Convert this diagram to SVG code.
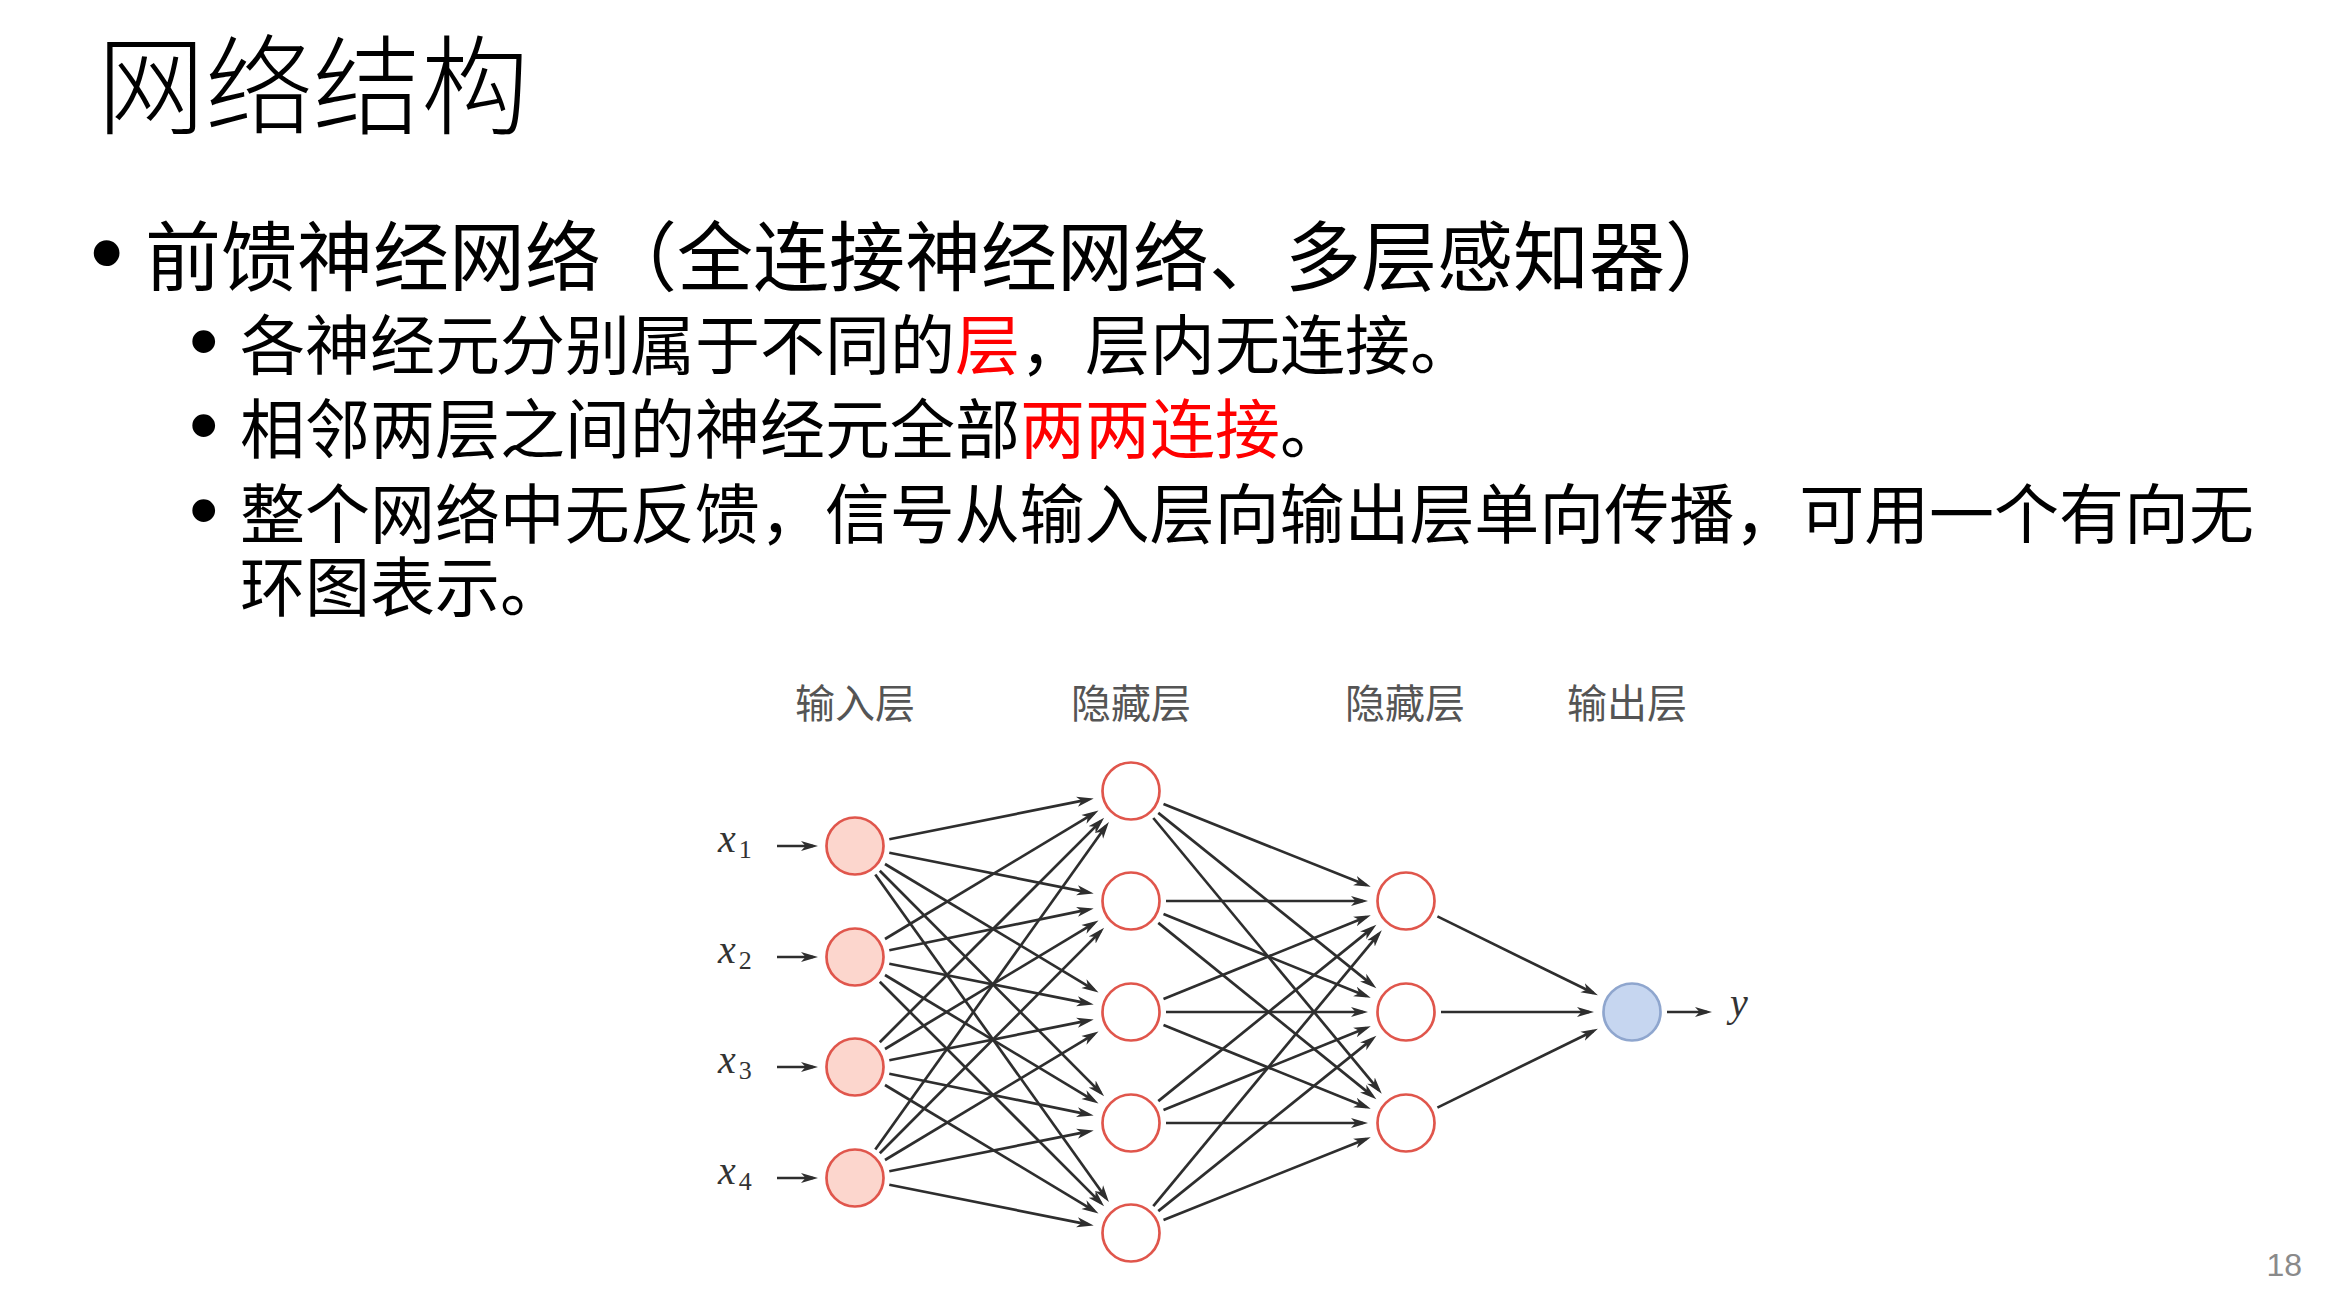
<svg xmlns="http://www.w3.org/2000/svg" width="2340" height="1302" viewBox="0 0 2340 1302">
<defs>
<marker id="arr" markerUnits="userSpaceOnUse" markerWidth="20" markerHeight="14" viewBox="0 0 20 14" refX="12" refY="7" orient="auto">
<path d="M0,2 L17,7 L0,12 L4.5,7 Z" fill="#2e2e2e"/>
</marker>
</defs>
<style>
.cjk{font-family:"Noto Sans CJK SC","Noto Sans",sans-serif;}
.title{font-size:108px;fill:#000;font-weight:300;}
.l1{font-size:76px;fill:#000;}
.l2{font-size:65px;fill:#000;}
.red{fill:#FF0000;}
.b1{font-family:"Liberation Sans",Arial,sans-serif;font-size:95px;}
.b2{font-family:"Liberation Sans",Arial,sans-serif;font-size:84px;}
.lay{font-size:40px;fill:#555;text-anchor:middle;}
.var{font-family:"Liberation Serif","Times New Roman",serif;font-style:italic;font-size:40px;fill:#333;}
.sub{font-style:normal;font-size:26px;}
.pg{font-family:"Liberation Sans",Arial,sans-serif;font-size:32px;fill:#8a8a8a;text-anchor:end;}
.edge line{stroke:#2e2e2e;stroke-width:2.7;fill:none;marker-end:url(#arr);}
.inp{fill:#FCD6CD;stroke:#E0564C;stroke-width:2.7;}
.hid{fill:#FFFFFF;stroke:#E0564C;stroke-width:2.7;}
.out{fill:#C6D6F0;stroke:#8FA6CE;stroke-width:2.7;}
</style>
<rect x="0" y="0" width="2340" height="1302" fill="#FFFFFF"/>

<g id="text">
<text class="cjk title" x="97" y="126">网络结构</text>
<text class="cjk l1" x="90" y="285"><tspan class="b1">•</tspan><tspan x="145">前馈神经网络（全连接神经网络、多层感知器）</tspan></text>
<text class="cjk l2" x="189" y="369"><tspan class="b2">•</tspan><tspan x="240">各神经元分别属于不同的</tspan><tspan class="red">层</tspan>，层内无连接。</text>
<text class="cjk l2" x="189" y="453"><tspan class="b2">•</tspan><tspan x="240">相邻两层之间的神经元全部</tspan><tspan class="red">两两连接</tspan>。</text>
<text class="cjk l2" x="189" y="538"><tspan class="b2">•</tspan><tspan x="240" textLength="2014" lengthAdjust="spacing">整个网络中无反馈，信号从输入层向输出层单向传播，可用一个有向无</tspan><tspan x="240" y="611">环图表示。</tspan></text>
<text class="pg" x="2302" y="1276">18</text>
</g>

<g id="layer-labels">
<text class="cjk lay" x="855" y="718">输入层</text>
<text class="cjk lay" x="1131" y="718">隐藏层</text>
<text class="cjk lay" x="1405" y="718">隐藏层</text>
<text class="cjk lay" x="1627" y="718">输出层</text>
</g>

<g id="var-labels">
<text class="var" x="718" y="852">x<tspan class="sub" dx="3" dy="6">1</tspan></text>
<text class="var" x="718" y="963">x<tspan class="sub" dx="3" dy="6">2</tspan></text>
<text class="var" x="718" y="1073">x<tspan class="sub" dx="3" dy="6">3</tspan></text>
<text class="var" x="718" y="1184">x<tspan class="sub" dx="3" dy="6">4</tspan></text>
<text class="var" x="1730" y="1016">y</text>
</g>

<g id="connectors" class="edge">
<line x1="777" y1="846" x2="813" y2="846"/>
<line x1="777" y1="957" x2="813" y2="957"/>
<line x1="777" y1="1067" x2="813" y2="1067"/>
<line x1="777" y1="1178" x2="813" y2="1178"/>

<line x1="889.3" y1="839.2" x2="1088.8" y2="799.4"/>
<line x1="889.3" y1="852.8" x2="1088.8" y2="892.6"/>
<line x1="885.0" y1="864.0" x2="1094.2" y2="989.8"/>
<line x1="879.8" y1="870.8" x2="1100.6" y2="1092.6"/>
<line x1="875.3" y1="874.5" x2="1106.0" y2="1198.0"/>

<line x1="885.0" y1="939.0" x2="1094.2" y2="813.2"/>
<line x1="889.3" y1="950.2" x2="1088.8" y2="909.4"/>
<line x1="889.3" y1="963.8" x2="1088.8" y2="1003.6"/>
<line x1="885.0" y1="975.0" x2="1094.2" y2="1100.8"/>
<line x1="879.8" y1="981.8" x2="1100.6" y2="1202.6"/>

<line x1="879.8" y1="1042.2" x2="1100.6" y2="821.4"/>
<line x1="885.0" y1="1049.0" x2="1094.2" y2="923.2"/>
<line x1="889.3" y1="1060.2" x2="1088.8" y2="1020.4"/>
<line x1="889.3" y1="1073.8" x2="1088.8" y2="1114.6"/>
<line x1="885.0" y1="1085.0" x2="1094.2" y2="1210.8"/>

<line x1="875.3" y1="1149.5" x2="1106.0" y2="826.0"/>
<line x1="879.8" y1="1153.2" x2="1100.6" y2="931.4"/>
<line x1="885.0" y1="1160.0" x2="1094.2" y2="1034.2"/>
<line x1="889.3" y1="1171.2" x2="1088.8" y2="1131.4"/>
<line x1="889.3" y1="1184.8" x2="1088.8" y2="1224.6"/>

<line x1="1163.5" y1="804.1" x2="1366.1" y2="885.0"/>
<line x1="1158.3" y1="812.9" x2="1372.5" y2="985.1"/>
<line x1="1153.3" y1="818.0" x2="1378.6" y2="1089.9"/>

<line x1="1166" y1="901" x2="1363" y2="901"/>
<line x1="1163.5" y1="914.1" x2="1366.1" y2="996.0"/>
<line x1="1158.3" y1="922.9" x2="1372.5" y2="1096.1"/>

<line x1="1163.5" y1="998.9" x2="1366.1" y2="917.0"/>
<line x1="1166" y1="1012" x2="1363" y2="1012"/>
<line x1="1163.5" y1="1025.1" x2="1366.1" y2="1107.0"/>

<line x1="1158.3" y1="1101.1" x2="1372.5" y2="927.9"/>
<line x1="1163.5" y1="1109.9" x2="1366.1" y2="1028.0"/>
<line x1="1166" y1="1123" x2="1363" y2="1123"/>

<line x1="1153.3" y1="1206.1" x2="1378.6" y2="934.1"/>
<line x1="1158.3" y1="1211.1" x2="1372.5" y2="1038.9"/>
<line x1="1163.5" y1="1220.0" x2="1366.1" y2="1139.0"/>

<line x1="1437.4" y1="916.4" x2="1593.4" y2="993.0"/>
<line x1="1441" y1="1012" x2="1589" y2="1012"/>
<line x1="1437.4" y1="1107.6" x2="1593.4" y2="1031.0"/>

<line x1="1667" y1="1012" x2="1707" y2="1012"/>
</g>

<g id="input-layer">
<circle id="in1" class="inp" cx="855" cy="846" r="28.5"/>
<circle id="in2" class="inp" cx="855" cy="957" r="28.5"/>
<circle id="in3" class="inp" cx="855" cy="1067" r="28.5"/>
<circle id="in4" class="inp" cx="855" cy="1178" r="28.5"/>
</g>
<g id="hidden-layer-1">
<circle id="h1a" class="hid" cx="1131" cy="791" r="28.5"/>
<circle id="h1b" class="hid" cx="1131" cy="901" r="28.5"/>
<circle id="h1c" class="hid" cx="1131" cy="1012" r="28.5"/>
<circle id="h1d" class="hid" cx="1131" cy="1123" r="28.5"/>
<circle id="h1e" class="hid" cx="1131" cy="1233" r="28.5"/>
</g>
<g id="hidden-layer-2">
<circle id="h2a" class="hid" cx="1406" cy="901" r="28.5"/>
<circle id="h2b" class="hid" cx="1406" cy="1012" r="28.5"/>
<circle id="h2c" class="hid" cx="1406" cy="1123" r="28.5"/>
</g>
<g id="output-layer">
<circle id="out1" class="out" cx="1632" cy="1012" r="28.5"/>
</g>
</svg>
